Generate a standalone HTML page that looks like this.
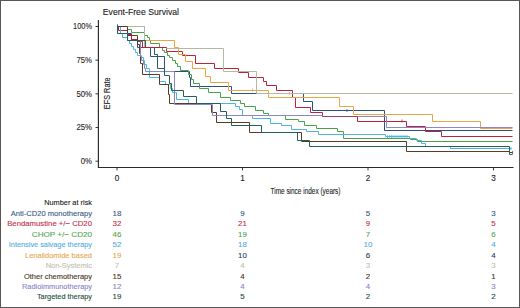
<!DOCTYPE html>
<html><head><meta charset="utf-8"><style>
html,body{margin:0;padding:0;background:#fff;}
body{width:520px;height:308px;overflow:hidden;}
svg{display:block;font-family:"Liberation Sans", sans-serif;}
text{stroke-width:0.12px;}
</style></head><body>
<svg width="520" height="308" viewBox="0 0 520 308">
<rect x="0.5" y="0.5" width="519" height="307" fill="#fff" stroke="#575757" stroke-width="1"/>
<text x="102.8" y="14.5" font-size="9.6" textLength="76.2" lengthAdjust="spacingAndGlyphs" fill="#222" stroke="#222">Event-Free Survival</text>
<line x1="95.5" y1="26.50" x2="98.5" y2="26.50" stroke="#222" stroke-width="0.9"/>
<text x="92" y="29.25" font-size="8.2" text-anchor="end" textLength="19.0" lengthAdjust="spacingAndGlyphs" fill="#2a2a2a" stroke="#2a2a2a">100%</text>
<line x1="95.5" y1="60.17" x2="98.5" y2="60.17" stroke="#222" stroke-width="0.9"/>
<text x="92" y="62.92" font-size="8.2" text-anchor="end" textLength="15.6" lengthAdjust="spacingAndGlyphs" fill="#2a2a2a" stroke="#2a2a2a">75%</text>
<line x1="95.5" y1="93.85" x2="98.5" y2="93.85" stroke="#222" stroke-width="0.9"/>
<text x="92" y="96.60" font-size="8.2" text-anchor="end" textLength="15.6" lengthAdjust="spacingAndGlyphs" fill="#2a2a2a" stroke="#2a2a2a">50%</text>
<line x1="95.5" y1="127.52" x2="98.5" y2="127.52" stroke="#222" stroke-width="0.9"/>
<text x="92" y="130.27" font-size="8.2" text-anchor="end" textLength="15.6" lengthAdjust="spacingAndGlyphs" fill="#2a2a2a" stroke="#2a2a2a">25%</text>
<line x1="95.5" y1="161.20" x2="98.5" y2="161.20" stroke="#222" stroke-width="0.9"/>
<text x="92" y="163.95" font-size="8.2" text-anchor="end" textLength="11.2" lengthAdjust="spacingAndGlyphs" fill="#2a2a2a" stroke="#2a2a2a">0%</text>
<path d="M98.4,20 V167.5 H513.5" fill="none" stroke="#2b2b2b" stroke-width="1.15"/>
<line x1="117" y1="167.5" x2="117" y2="170.4" stroke="#222" stroke-width="0.9"/>
<text x="117" y="180.5" font-size="8.2" text-anchor="middle" fill="#222" stroke="#222">0</text>
<line x1="242.5" y1="167.5" x2="242.5" y2="170.4" stroke="#222" stroke-width="0.9"/>
<text x="242.5" y="180.5" font-size="8.2" text-anchor="middle" fill="#222" stroke="#222">1</text>
<line x1="368" y1="167.5" x2="368" y2="170.4" stroke="#222" stroke-width="0.9"/>
<text x="368" y="180.5" font-size="8.2" text-anchor="middle" fill="#222" stroke="#222">2</text>
<line x1="493.5" y1="167.5" x2="493.5" y2="170.4" stroke="#222" stroke-width="0.9"/>
<text x="493.5" y="180.5" font-size="8.2" text-anchor="middle" fill="#222" stroke="#222">3</text>
<text x="270.5" y="193.6" font-size="9.8" textLength="70" lengthAdjust="spacingAndGlyphs" fill="#222" stroke="#222">Time since index (years)</text>
<text transform="translate(109.6,109.2) rotate(-90)" x="0" y="0" font-size="8.3" textLength="31.8" lengthAdjust="spacingAndGlyphs" fill="#222" stroke="#222">EFS Rate</text>
<path d="M117.5,26.5 H127.5 V33.5 H131.5 V40.5 H137.5 V47.5 H150.5 V56.5 H164.5 V71.5 H189.5 V77.5 H190.5 V86.5 H231.5 V93.5 H303.5 V101.5 H312.5 V110.5 H384.5 V130.5 H512.5" fill="none" stroke="#2d4f86" stroke-width="1"/>
<path d="M117.5,26.5 H118.5 V30.5 H127.5 V34.5 H131.5 V39.5 H137.5 V41.5 H142.5 V47.5 H166.5 V51.5 H182.5 V55.5 H195.5 V63.5 H214.5 V68.5 H238.5 V72.5 H248.5 V77.5 H263.5 V81.5 H266.5 V85.5 H276.5 V90.5 H292.5 V97.5 H295.5 V107.5 H310.5 V112.5 H322.5 V116.5 H357.5 V121.5 H406.5 V126.5 H425.5 V131.5 H441.5 V136.5 H512.5" fill="none" stroke="#bc2140" stroke-width="1"/>
<path d="M117.5,26.5 H127.5 V29.5 H131.5 V32.5 H144.5 V35.5 H147.5 V37.5 H149.5 V40.5 H150.5 V43.5 H159.5 V47.5 H162.5 V50.5 H164.5 V52.5 H167.5 V55.5 H169.5 V57.5 H172.5 V60.5 H175.5 V63.5 H177.5 V66.5 H180.5 V70.5 H188.5 V74.5 H191.5 V79.5 H193.5 V83.5 H199.5 V88.5 H208.5 V92.5 H220.5 V97.5 H230.5 V100.5 H240.5 V103.5 H244.5 V106.5 H255.5 V110.5 H263.5 V113.5 H268.5 V115.5 H285.5 V119.5 H298.5 V121.5 H304.5 V125.5 H316.5 V128.5 H337.5 V131.5 H343.5 V138.5 H410.5 V139.5 H417.5 V141.5 H512.5" fill="none" stroke="#4aa34a" stroke-width="1"/>
<path d="M117.5,26.5 H120.5 V33.5 H122.5 V37.5 H127.5 V40.5 H129.5 V43.5 H131.5 V46.5 H133.5 V49.5 H135.5 V52.5 H137.5 V55.5 H141.5 V57.5 H143.5 V60.5 H144.5 V64.5 H146.5 V68.5 H149.5 V77.5 H159.5 V81.5 H165.5 V84.5 H170.5 V88.5 H172.5 V92.5 H176.5 V99.5 H188.5 V103.5 H235.5 V106.5 H239.5 V109.5 H242.5 V115.5 H252.5 V118.5 H270.5 V123.5 H281.5 V125.5 H291.5 V129.5 H306.5 V131.5 H318.5 V134.5 H385.5 V136.5 H409.5 V138.5 H416.5 V140.5 H421.5 V143.5 H425.5 V146.5 H450.5 V148.5 H511.5" fill="none" stroke="#4cb6e0" stroke-width="1"/>
<path d="M117.5,26.5 H144.5 V40.5 H174.5 V47.5 H178.5 V54.5 H185.5 V61.5 H192.5 V68.5 H205.5 V76.5 H210.5 V82.5 H228.5 V90.5 H268.5 V97.5 H339.5 V106.5 H353.5 V114.5 H432.5 V121.5 H480.5 V128.5 H512.5" fill="none" stroke="#eaa645" stroke-width="1"/>
<path d="M117.5,26.5 H144.5 V47.5 H166.5 V48.5 H223.5 V71.5 H256.5 V93.5 H512.5" fill="none" stroke="#b4b9a2" stroke-width="1"/>
<path d="M117.5,26.5 H127.5 V35.5 H137.5 V44.5 H139.5 V53.5 H140.5 V63.5 H142.5 V74.5 H159.5 V84.5 H168.5 V94.5 H169.5 V103.5 H211.5 V112.5 H216.5 V122.5 H249.5 V132.5 H301.5 V141.5 H406.5 V151.5 H509.5 V152.5 H512.5" fill="none" stroke="#5a3b25" stroke-width="1"/>
<path d="M117.5,26.5 V33.5 H127.5 V40.5 H140.5 V56.5 H141.5 V60.5 H143.5 V64.5 H144.5 V68.5 H145.5 V71.5 H174.5 V104.5 H212.5 V115.5 H322.5 V116.5 H386.5 V127.5 H512.5" fill="none" stroke="#8f86c4" stroke-width="1"/>
<path d="M117.5,24.5 V33.5 H127.5 V40.5 H145.5 V47.5 H154.5 V54.5 H157.5 V68.5 H164.5 V75.5 H169.5 V83.5 H171.5 V90.5 H183.5 V96.5 H196.5 V103.5 H220.5 V111.5 H226.5 V118.5 H231.5 V125.5 H261.5 V132.5 H297.5 V140.5 H309.5 V146.5 H509.5 V154.5 H512.5" fill="none" stroke="#23625a" stroke-width="1"/>
<path d="M142.5,47.5 H166.5" fill="none" stroke="#bc2140" stroke-width="1"/>
<path d="M322.5,116.5 H357.5" fill="none" stroke="#93406a" stroke-width="1"/>
<line x1="289.3" y1="92.1" x2="289.3" y2="95.1" stroke="#b4b9a2" stroke-width="0.8"/>
<line x1="252.5" y1="88.6" x2="252.5" y2="91.6" stroke="#eaa645" stroke-width="0.8"/>
<line x1="347" y1="109.1" x2="347" y2="112.1" stroke="#2d4f86" stroke-width="0.8"/>
<line x1="402" y1="119.5" x2="402" y2="122.5" stroke="#bc2140" stroke-width="0.8"/>
<line x1="387.5" y1="135.1" x2="387.5" y2="138.1" stroke="#4cb6e0" stroke-width="0.8"/>
<line x1="389.5" y1="135.1" x2="389.5" y2="138.1" stroke="#4cb6e0" stroke-width="0.8"/>
<line x1="391.5" y1="135.1" x2="391.5" y2="138.1" stroke="#4cb6e0" stroke-width="0.8"/>
<line x1="393" y1="135.1" x2="393" y2="138.1" stroke="#4cb6e0" stroke-width="0.8"/>
<line x1="395" y1="135.1" x2="395" y2="138.1" stroke="#4cb6e0" stroke-width="0.8"/>
<line x1="397" y1="135.1" x2="397" y2="138.1" stroke="#4cb6e0" stroke-width="0.8"/>
<line x1="399" y1="135.1" x2="399" y2="138.1" stroke="#4cb6e0" stroke-width="0.8"/>
<line x1="401" y1="135.1" x2="401" y2="138.1" stroke="#4cb6e0" stroke-width="0.8"/>
<line x1="403" y1="135.1" x2="403" y2="138.1" stroke="#4cb6e0" stroke-width="0.8"/>
<line x1="405" y1="135.1" x2="405" y2="138.1" stroke="#4cb6e0" stroke-width="0.8"/>
<line x1="407" y1="135.1" x2="407" y2="138.1" stroke="#4cb6e0" stroke-width="0.8"/>
<line x1="511" y1="147.0" x2="511" y2="150.0" stroke="#4cb6e0" stroke-width="0.8"/>
<line x1="512.6" y1="151.1" x2="512.6" y2="154.1" stroke="#5a3b25" stroke-width="0.8"/>
<text x="92" y="205.45" font-size="7.9" text-anchor="end" textLength="47.8" lengthAdjust="spacingAndGlyphs" fill="#222" stroke="#222">Number at risk</text>
<text x="92" y="215.89" font-size="7.9" text-anchor="end" textLength="81.3" lengthAdjust="spacingAndGlyphs" fill="#3a5a85" stroke="#3a5a85">Anti-CD20 monotherapy</text>
<text x="117" y="215.89" font-size="7.9" text-anchor="middle" fill="#3a5a85" stroke="#3a5a85">18</text>
<text x="242.5" y="215.89" font-size="7.9" text-anchor="middle" fill="#3a5a85" stroke="#3a5a85">9</text>
<text x="368" y="215.89" font-size="7.9" text-anchor="middle" fill="#3a5a85" stroke="#3a5a85">5</text>
<text x="493.5" y="215.89" font-size="7.9" text-anchor="middle" fill="#3a5a85" stroke="#3a5a85">3</text>
<text x="92" y="226.33" font-size="7.9" text-anchor="end" textLength="84.8" lengthAdjust="spacingAndGlyphs" fill="#c4304a" stroke="#c4304a">Bendamustine +/− CD20</text>
<text x="117" y="226.33" font-size="7.9" text-anchor="middle" fill="#c4304a" stroke="#c4304a">32</text>
<text x="242.5" y="226.33" font-size="7.9" text-anchor="middle" fill="#c4304a" stroke="#c4304a">21</text>
<text x="368" y="226.33" font-size="7.9" text-anchor="middle" fill="#c4304a" stroke="#c4304a">9</text>
<text x="493.5" y="226.33" font-size="7.9" text-anchor="middle" fill="#c4304a" stroke="#c4304a">5</text>
<text x="92" y="236.77" font-size="7.9" text-anchor="end" textLength="60.2" lengthAdjust="spacingAndGlyphs" fill="#55a84f" stroke="#55a84f">CHOP +/− CD20</text>
<text x="117" y="236.77" font-size="7.9" text-anchor="middle" fill="#55a84f" stroke="#55a84f">46</text>
<text x="242.5" y="236.77" font-size="7.9" text-anchor="middle" fill="#55a84f" stroke="#55a84f">19</text>
<text x="368" y="236.77" font-size="7.9" text-anchor="middle" fill="#55a84f" stroke="#55a84f">7</text>
<text x="493.5" y="236.77" font-size="7.9" text-anchor="middle" fill="#55a84f" stroke="#55a84f">6</text>
<text x="92" y="247.21" font-size="7.9" text-anchor="end" textLength="83.2" lengthAdjust="spacingAndGlyphs" fill="#55aee0" stroke="#55aee0">Intensive salvage therapy</text>
<text x="117" y="247.21" font-size="7.9" text-anchor="middle" fill="#55aee0" stroke="#55aee0">52</text>
<text x="242.5" y="247.21" font-size="7.9" text-anchor="middle" fill="#55aee0" stroke="#55aee0">18</text>
<text x="368" y="247.21" font-size="7.9" text-anchor="middle" fill="#55aee0" stroke="#55aee0">10</text>
<text x="493.5" y="247.21" font-size="7.9" text-anchor="middle" fill="#55aee0" stroke="#55aee0">4</text>
<text x="92" y="257.65" font-size="7.9" text-anchor="end" textLength="67" lengthAdjust="spacingAndGlyphs" fill="#eaa752" stroke="#eaa752">Lenalidomide based</text>
<text x="117" y="257.65" font-size="7.9" text-anchor="middle" fill="#eaa752" stroke="#eaa752">19</text>
<text x="242.5" y="257.65" font-size="7.9" text-anchor="middle" fill="#2c3d63" stroke="#2c3d63">10</text>
<text x="368" y="257.65" font-size="7.9" text-anchor="middle" fill="#2c3d63" stroke="#2c3d63">6</text>
<text x="493.5" y="257.65" font-size="7.9" text-anchor="middle" fill="#2c3d63" stroke="#2c3d63">4</text>
<text x="92" y="268.09" font-size="7.9" text-anchor="end" textLength="46.3" lengthAdjust="spacingAndGlyphs" fill="#bcc3b0" stroke="#bcc3b0">Non-Systemic</text>
<text x="117" y="268.09" font-size="7.9" text-anchor="middle" fill="#bcc3b0" stroke="#bcc3b0">7</text>
<text x="242.5" y="268.09" font-size="7.9" text-anchor="middle" fill="#bcc3b0" stroke="#bcc3b0">4</text>
<text x="368" y="268.09" font-size="7.9" text-anchor="middle" fill="#bcc3b0" stroke="#bcc3b0">3</text>
<text x="493.5" y="268.09" font-size="7.9" text-anchor="middle" fill="#bcc3b0" stroke="#bcc3b0">3</text>
<text x="92" y="278.53" font-size="7.9" text-anchor="end" textLength="68" lengthAdjust="spacingAndGlyphs" fill="#4a3420" stroke="#4a3420">Other chemotherapy</text>
<text x="117" y="278.53" font-size="7.9" text-anchor="middle" fill="#4a3420" stroke="#4a3420">15</text>
<text x="242.5" y="278.53" font-size="7.9" text-anchor="middle" fill="#4a3420" stroke="#4a3420">4</text>
<text x="368" y="278.53" font-size="7.9" text-anchor="middle" fill="#4a3420" stroke="#4a3420">2</text>
<text x="493.5" y="278.53" font-size="7.9" text-anchor="middle" fill="#4a3420" stroke="#4a3420">1</text>
<text x="92" y="288.97" font-size="7.9" text-anchor="end" textLength="70" lengthAdjust="spacingAndGlyphs" fill="#8a86c6" stroke="#8a86c6">Radioimmunotherapy</text>
<text x="117" y="288.97" font-size="7.9" text-anchor="middle" fill="#8a86c6" stroke="#8a86c6">12</text>
<text x="242.5" y="288.97" font-size="7.9" text-anchor="middle" fill="#8a86c6" stroke="#8a86c6">4</text>
<text x="368" y="288.97" font-size="7.9" text-anchor="middle" fill="#8a86c6" stroke="#8a86c6">4</text>
<text x="493.5" y="288.97" font-size="7.9" text-anchor="middle" fill="#8a86c6" stroke="#8a86c6">3</text>
<text x="92" y="299.41" font-size="7.9" text-anchor="end" textLength="55.1" lengthAdjust="spacingAndGlyphs" fill="#1f4d42" stroke="#1f4d42">Targeted therapy</text>
<text x="117" y="299.41" font-size="7.9" text-anchor="middle" fill="#1f4d42" stroke="#1f4d42">19</text>
<text x="242.5" y="299.41" font-size="7.9" text-anchor="middle" fill="#1f4d42" stroke="#1f4d42">5</text>
<text x="368" y="299.41" font-size="7.9" text-anchor="middle" fill="#1f4d42" stroke="#1f4d42">2</text>
<text x="493.5" y="299.41" font-size="7.9" text-anchor="middle" fill="#1f4d42" stroke="#1f4d42">2</text>
</svg>
</body></html>
